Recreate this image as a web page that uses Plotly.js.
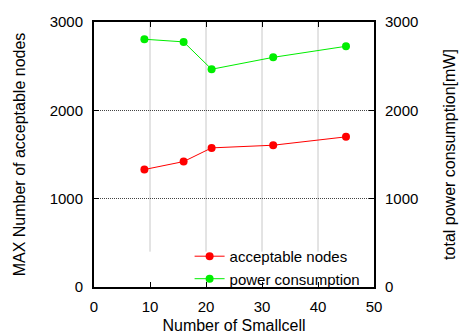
<!DOCTYPE html>
<html>
<head>
<meta charset="utf-8">
<script src="https://cdn.plot.ly/plotly-3.0.1.min.js"></script>
<style>html,body{margin:0;padding:0;background:#fff;}#chart{width:459px;height:334px;}</style>
</head>
<body>
<div id="chart"></div>
<script>
// Data
const smallcells = [9, 16, 21, 32, 45];
const acceptableNodes = [1330, 1420, 1575, 1605, 1700];
const powerConsumption = [2805, 2775, 2465, 2600, 2725];
const xTicks = [0, 10, 20, 30, 40, 50];
const yTicks = [0, 1000, 2000, 3000];

const FONT = 'Liberation Sans, Arial, Helvetica, sans-serif';

const traces = [
  {
    x: smallcells, y: acceptableNodes, name: 'acceptable nodes',
    type: 'scatter', mode: 'lines+markers', yaxis: 'y',
    line: {color: '#ff0000', width: 1}, marker: {color: '#ff0000', size: 8}
  },
  {
    x: smallcells, y: powerConsumption, name: 'power consumption',
    type: 'scatter', mode: 'lines+markers', yaxis: 'y2',
    line: {color: '#00ee00', width: 1}, marker: {color: '#00ee00', size: 8}
  }
];

// vertical grid lines (stop above the legend like in the reference)
const gridTop = 3000, gridBottom = 400;
const shapes = xTicks.filter(v => v > 0 && v < 50).map(v => ({
  type: 'line', xref: 'x', yref: 'y', x0: v, x1: v, y0: gridBottom, y1: gridTop,
  line: {color: '#c8c8c8', width: 1}, layer: 'below'
}));

const layout = {
  width: 459, height: 334,
  margin: {l: 94, r: 85, t: 22, b: 47},
  paper_bgcolor: '#ffffff', plot_bgcolor: '#ffffff',
  font: {family: FONT, size: 15, color: '#000'},
  showlegend: true,
  legend: {
    x: 0.97, xanchor: 'right', y: -0.03, yanchor: 'bottom',
    bgcolor: 'rgba(0,0,0,0)', font: {family: FONT, size: 15, color: '#000'},
    tracegroupgap: 0
  },
  xaxis: {
    range: [0, 50], tickvals: xTicks, ticktext: xTicks.map(String),
    ticks: 'inside', ticklen: 5, tickcolor: '#000', tickwidth: 1,
    ticklabelstandoff: 5,
    showline: true, linecolor: '#000', linewidth: 2, mirror: 'ticks',
    showgrid: false, zeroline: false,
    tickfont: {family: FONT, size: 15},
    title: {text: 'Number of Smallcell', font: {family: FONT, size: 16}, standoff: 14}
  },
  yaxis: {
    range: [0, 3000], tickvals: yTicks, ticktext: yTicks.map(String),
    ticks: 'inside', ticklen: 5, tickcolor: '#000', tickwidth: 1,
    ticklabelstandoff: 6,
    showline: true, linecolor: '#000', linewidth: 2, mirror: true,
    showgrid: true, gridcolor: '#444', griddash: '1px,1px', gridwidth: 1,
    zeroline: false,
    tickfont: {family: FONT, size: 15},
    title: {text: 'MAX Number of acceptable nodes', font: {family: FONT, size: 16}, standoff: 20}
  },
  yaxis2: {
    range: [0, 3000], tickvals: yTicks, ticktext: yTicks.map(String),
    overlaying: 'y', side: 'right',
    ticks: 'inside', ticklen: 5, tickcolor: '#000', tickwidth: 1,
    ticklabelstandoff: 10,
    showline: false, showgrid: false, zeroline: false,
    tickfont: {family: FONT, size: 15},
    title: {text: 'total power consumption[mW]', font: {family: FONT, size: 16}, standoff: 26}
  },
  shapes: shapes
};

Plotly.newPlot('chart', traces, layout, {displayModeBar: false, staticPlot: true});
</script>
</body>
</html>
